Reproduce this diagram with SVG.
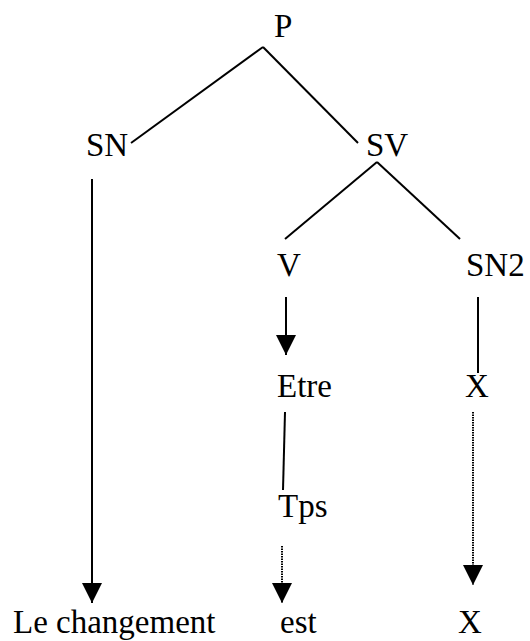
<svg xmlns="http://www.w3.org/2000/svg" width="530" height="641" viewBox="0 0 530 641">
<style>
.e{stroke:#000;stroke-width:2;fill:none}
.d{stroke:#000;stroke-width:2;stroke-dasharray:1.5,1;fill:none}
</style>
<defs>
<marker id="ah" markerUnits="userSpaceOnUse" markerWidth="20" markerHeight="20" refX="20" refY="10" orient="auto" viewBox="0 0 20 20">
<path d="M0,0 L20,10 L0,20 z" fill="#000"/>
</marker>
</defs>
<rect width="530" height="641" fill="#fff"/>
<g id="connectors">
<line class="e" x1="263" y1="47" x2="131" y2="143"/>
<line class="e" x1="263" y1="47" x2="358" y2="143"/>
<line class="e" x1="377" y1="162" x2="285" y2="239"/>
<line class="e" x1="377" y1="162" x2="460" y2="239"/>
<line class="e" x1="92" y1="179" x2="92" y2="603" marker-end="url(#ah)"/>
<line class="e" x1="286" y1="297" x2="286" y2="355" marker-end="url(#ah)"/>
<line class="e" x1="478" y1="297" x2="478" y2="373"/>
<line class="e" x1="285" y1="412" x2="283" y2="490"/>
<line class="d" x1="282" y1="546" x2="282" y2="603" marker-end="url(#ah)"/>
<line class="d" x1="473" y1="412" x2="473" y2="585" marker-end="url(#ah)"/>
</g>
<g font-family="'Liberation Serif', 'Times New Roman', serif" font-size="33" fill="#000">
<g id="P"><text x="274" y="37">P</text></g>
<g id="SN"><text x="86" y="156">SN</text></g>
<g id="SV"><text x="366" y="156">SV</text></g>
<g id="V"><text x="277" y="276">V</text></g>
<g id="SN2"><text x="466" y="276">SN2</text></g>
<g id="Etre"><text x="277" y="397">Etre</text></g>
<g id="X1"><text x="465" y="397">X</text></g>
<g id="Tps"><text x="278" y="517">Tps</text></g>
<g id="LeChangement"><text x="13" y="633">Le changement</text></g>
<g id="est"><text x="280" y="633">est</text></g>
<g id="X2"><text x="458" y="633">X</text></g>
</g>
</svg>
